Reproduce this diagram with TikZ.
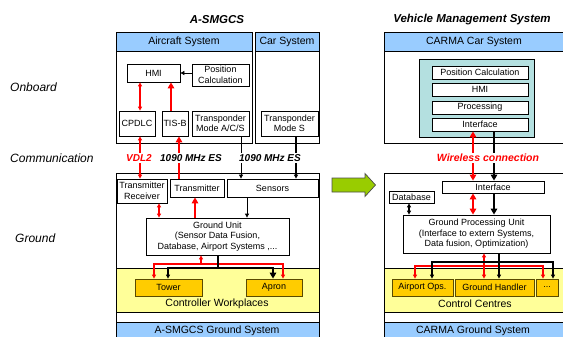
\documentclass[tikz,border=0pt]{standalone}
\usepackage{fontspec}
\setmainfont{Liberation Sans}
\usetikzlibrary{arrows.meta,calc}
\definecolor{hdrblue}{HTML}{99CCFF}
\definecolor{bandyel}{HTML}{FFFF99}
\definecolor{boxorange}{HTML}{FFCC00}
\definecolor{tealbox}{HTML}{B4E0E0}
\definecolor{arrowgreen}{HTML}{99CC00}
\definecolor{ybord}{HTML}{5A4A00}
\begin{document}
\begin{tikzpicture}[x=1pt,y=-1pt,
  frame/.style={draw=black,line width=0.8pt},
  box/.style={draw=black,line width=0.8pt,fill=white,inner sep=0pt,align=center,
    font=\fontsize{9}{10.5}\selectfont},
  ybox/.style={box,fill=boxorange,draw=ybord},
  hdr/.style={inner sep=0pt,font=\fontsize{10.5}{12}\selectfont},
  title/.style={inner sep=0pt,font=\fontsize{11.5}{13}\selectfont\bfseries\itshape},
  side/.style={inner sep=0pt,anchor=west,font=\fontsize{12}{14}\selectfont\itshape},
  comm/.style={fill=white,inner sep=1.5pt,font=\fontsize{10}{12}\selectfont\bfseries\itshape},
  tipS/.tip={Triangle[length=4pt,width=4pt]},
  tipL/.tip={Triangle[length=6pt,width=6.5pt]},
  rthin/.style={draw=red,line width=1.2pt},
  rthick/.style={draw=red,line width=2.6pt},
  bthin/.style={draw=black,line width=0.8pt},
  bmed/.style={draw=black,line width=1.6pt},
  bthick/.style={draw=black,line width=2.4pt}]
\useasboundingbox (0,0) rectangle (563,337);
\clip (0,0) rectangle (563,337);

% ---------------- titles and side labels
\node[title] (tA) at (217,20) {A-SMGCS};
\node[title] (tV) at (472,20) {Vehicle Management System};
\node[side] (lOn) at (10,87) {Onboard};
\node[side] (lCo) at (10,158) {Communication};
\node[side] (lGr) at (15,238) {Ground};

% ---------------- left onboard frames
\fill[hdrblue] (116,32) rectangle (252,51);
\draw[frame] (116,32) rectangle (252,143);
\draw[frame] (116,51) -- (252,51);
\node[hdr] (hAir) at (184,41.5) {Aircraft System};
\fill[hdrblue] (255,32) rectangle (319,51);
\draw[frame] (255,32) rectangle (319,143);
\draw[frame] (255,51) -- (319,51);
\node[hdr] (hCar) at (287,41.5) {Car System};

\node[box,minimum width=53pt,minimum height=18pt] (hmi) at (153.5,73) {HMI};
\node[box,minimum width=57pt,minimum height=22pt] (pos) at (220.5,75) {Position\\Calculation};
\node[box,minimum width=36pt,minimum height=25pt] (cpdlc) at (137,123.5) {CPDLC};
\node[box,minimum width=26pt,minimum height=25pt] (tisb) at (175,123.5) {TIS-B};
\node[box,minimum width=57pt,minimum height=25pt] (tpa) at (220.5,123.5) {Transponder\\Mode A/C/S};
\node[box,minimum width=57pt,minimum height=25pt] (tps) at (289.5,123.5) {Transponder\\Mode S};

% ---------------- left ground frame
\fill[bandyel] (116,268) rectangle (319,312);
\fill[hdrblue] (116,322) rectangle (319,345);
\draw[frame] (116,173) rectangle (319,345);
\draw[frame] (116,268) -- (319,268);
\draw[frame] (116,312) -- (319,312);
\draw[frame] (116,322) -- (319,322);
\node[hdr] (hCW) at (217,304) {Controller Workplaces};
\node[hdr] (hAG) at (217,331) {A-SMGCS Ground System};

\node[box,minimum width=50pt,minimum height=24pt] (trx) at (142,191) {Transmitter\\Receiver};
\node[box,minimum width=54pt,minimum height=18pt] (tmt) at (197,188) {Transmitter};
\node[box,minimum width=91pt,minimum height=18pt] (sens) at (272.5,188) {Sensors};
\node[box,minimum width=143pt,minimum height=37pt] (gu) at (217.5,236.5)
  {Ground Unit\\(Sensor Data Fusion,\\Database, Airport Systems ,...};
\node[ybox,minimum width=67pt,minimum height=17pt] (tower) at (168.5,287.5) {Tower};
\node[ybox,minimum width=56pt,minimum height=17pt] (apron) at (274,287.5) {Apron};

% ---------------- right onboard frame
\fill[hdrblue] (384,32) rectangle (575,51);
\draw[frame] (384,32) rectangle (575,143);
\draw[frame] (384,51) -- (575,51);
\node[hdr] (hCC) at (474,41.5) {CARMA Car System};
\node[draw=black,line width=0.8pt,fill=tealbox,minimum width=115pt,minimum height=78pt,inner sep=0pt] (teal) at (476.5,98) {};
\node[box,minimum width=96pt,minimum height=13pt] (vpos) at (480,72.5) {Position Calculation};
\node[box,minimum width=96pt,minimum height=13pt] (vhmi) at (480,89.5) {HMI};
\node[box,minimum width=96pt,minimum height=13pt] (vproc) at (480,107.5) {Processing};
\node[box,minimum width=96pt,minimum height=13pt] (vif) at (480,124.5) {Interface};

% ---------------- right ground frame
\fill[bandyel] (384,268) rectangle (575,312);
\fill[hdrblue] (384,322) rectangle (575,345);
\draw[frame] (384,173) rectangle (575,345);
\draw[frame] (384,268) -- (575,268);
\draw[frame] (384,312) -- (575,312);
\draw[frame] (384,322) -- (575,322);
\node[hdr] (hCCt) at (475,304) {Control Centres};
\node[hdr] (hCG) at (473,331) {CARMA Ground System};

\node[box,minimum width=102pt,minimum height=12pt] (gif) at (493,187) {Interface};
\node[box,minimum width=45pt,minimum height=12pt] (db) at (411.5,197) {Database};
\node[box,minimum width=147pt,minimum height=38pt] (gpu) at (476.5,234)
  {Ground Processing Unit\\(Interface to extern Systems,\\Data fusion, Optimization)};
\node[ybox,minimum width=61pt,minimum height=17pt] (aops) at (422.5,287.5) {Airport Ops.};
\node[ybox,minimum width=79pt,minimum height=17pt] (gh) at (494.5,287.5) {Ground Handler};
\node[ybox,minimum width=22pt,minimum height=17pt] (etc) at (547,287.5) {...};

% ---------------- green transition arrow
\draw[fill=arrowgreen,draw=black!70,line width=0.7pt]
  (332,178) -- (365,178) -- (365,173.5) -- (375.5,185) -- (365,196.5) -- (365,192) -- (332,192) -- cycle;

% ---------------- connector x positions
\coordinate (x140) at (140,0);
\coordinate (x171) at (171,0);
\coordinate (x179) at (179,0);
\coordinate (x241) at (241,0);
\coordinate (x296) at (296,0);
\coordinate (x159) at (159,0);
\coordinate (x195) at (195,0);
\coordinate (x247) at (247,0);
\coordinate (x154) at (154,0);
\coordinate (x283) at (283,0);
\coordinate (x201) at (201,0);
\coordinate (x168) at (168,0);
\coordinate (x273) at (273,0);
\coordinate (x218) at (218,0);
\coordinate (rbusL) at (0,264);
\coordinate (bbusL) at (0,267.5);
\coordinate (x473) at (473,0);
\coordinate (x494) at (494,0);
\coordinate (x409) at (409,0);
\coordinate (x415) at (415,0);
\coordinate (x543) at (543,0);
\coordinate (x484) at (484,0);
\coordinate (x432) at (432,0);
\coordinate (x553) at (553,0);
\coordinate (x499) at (499,0);
\coordinate (rbusR) at (0,266);
\coordinate (bbusR) at (0,262);

% ---------------- left onboard connectors
\draw[rthin,tipS-tipS] (hmi.south -| x140) -- (cpdlc.north -| x140);
\draw[rthick,-tipL] (tisb.north -| x171) -- (hmi.south -| x171);
\draw[bthin,-tipS] (hmi.east -| pos.west) -- (hmi.east);

% ---------------- communication links
\draw[rthin,tipS-tipS] (cpdlc.south -| x140) -- (trx.north -| x140);
\draw[rthick,-tipL] (tmt.north -| x179) -- (tisb.south -| x179);
\draw[bthin,-tipS] (tpa.south -| x241) -- (sens.north -| x241);
\draw[bmed,-tipS] (tps.south -| x296) -- (sens.north -| x296);
\draw[rthick,tipL-tipL] (gif.north -| x473) -- (vif.south -| x473);
\draw[bthick,-tipL] (vif.south -| x494) -- (gif.north -| x494);

% ---------------- left ground connectors
\draw[rthin,tipS-tipS] (trx.south -| x159) -- (gu.north -| x159);
\draw[rthick,-tipL] (gu.north -| x195) -- (tmt.south -| x195);
\draw[bthin,-tipS] (sens.south -| x247) -- (gu.north -| x247);
\draw[rthin,tipS-tipS] (tower.north -| x154) -- (x154 |- rbusL) -- (x283 |- rbusL) -- (apron.north -| x283);
\draw[rthin,-tipS] (x201 |- rbusL) -- (gu.south -| x201);
\draw[bmed,tipS-tipL] (tower.north -| x168) -- (x168 |- bbusL) -- (x273 |- bbusL) -- (apron.north -| x273);
\draw[bthick] (gu.south -| x218) -- (x218 |- bbusL);

% ---------------- right ground connectors
\draw[rthick,tipL-tipL] (gif.south -| x473) -- (gpu.north -| x473);
\draw[bthick,-tipL] (gif.south -| x494) -- (gpu.north -| x494);
\draw[bmed,tipS-tipS] (db.south -| x409) -- (gpu.north -| x409);
\draw[rthin,tipS-tipS] (aops.north -| x415) -- (x415 |- rbusR) -- (x543 |- rbusR) -- (etc.north -| x543);
\draw[rthin,tipS-tipS] (gpu.south -| x484) -- (gh.north -| x484);
\draw[bmed,tipS-tipS] (aops.north -| x432) -- (x432 |- bbusR) -- (x553 |- bbusR) -- (etc.north -| x553);
\draw[bmed,-tipS] (gpu.south -| x499) -- (gh.north -| x499);

% ---------------- communication labels (on top of the links)
\node[comm,text=red] (cVDL) at (139,158) {VDL2};
\node[comm] (cES1) at (191,158) {1090 MHz ES};
\node[comm] (cES2) at (270,158) {1090 MHz ES};
\node[comm,text=red,font=\fontsize{10.5}{12}\selectfont\bfseries\itshape] (cWL) at (488,158) {Wireless connection};
\end{tikzpicture}
\end{document}
